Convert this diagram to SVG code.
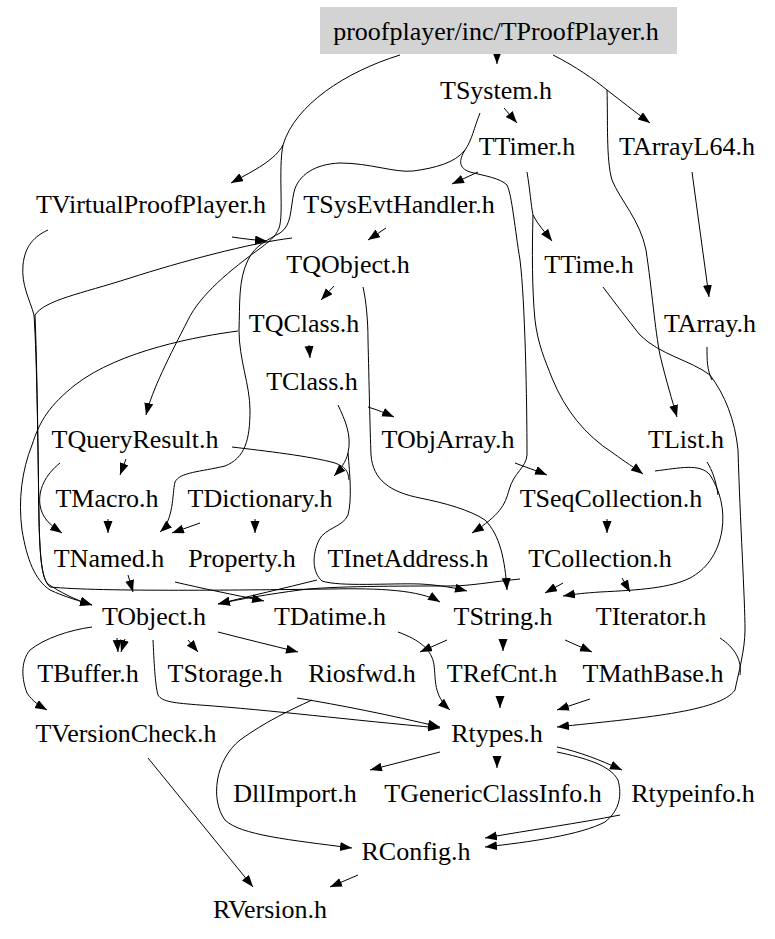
<svg xmlns="http://www.w3.org/2000/svg" width="775" height="939" viewBox="0 0 775 939">
<defs>
<marker id="ah" markerUnits="userSpaceOnUse" markerWidth="13" markerHeight="10" refX="12" refY="4.5" orient="auto"><path d="M0,0 L12,4.5 L0,9 z" fill="#000"/></marker>
<style>
text{font-family:"Liberation Serif","Times New Roman",serif;font-size:26px;text-anchor:middle;fill:#000}
#edges path{fill:none;stroke:#000;stroke-width:1}
#edges path.a{marker-end:url(#ah)}
</style>
</defs>
<rect width="775" height="939" fill="#fff"/>
<g id="edges">
<path class="a" d="M497,52 L497,64"/>
<path class="a" d="M400,55 C345,72 295,105 283,145 C275,160 255,170 231,183"/>
<path class="a" d="M283,145 C278,170 284,215 279,228 C275,238 268,242 262,247 C230,270 200,295 188,320 C170,355 152,390 146,415"/>
<path class="a" d="M553,55 C575,66 595,80 607,90 C620,100 635,112 650,123"/>
<path class="a" d="M607,90 C608,120 606,160 612,180 C620,200 640,220 646,250 C652,290 655,330 660,355 C666,380 672,400 677,417"/>
<path class="a" d="M504,108 L517,123"/>
<path class="a" d="M480,113 C474,128 472,140 465,150 C455,163 435,168 413,171 C395,173 370,163 340,163 C315,164 298,175 294,192 C290,210 292,225 280,233 C268,240 255,245 248,260 C238,280 240,305 239,330 C239,360 250,385 250,410 C250,440 245,458 225,466 C200,472 180,472 175,482 C172,495 174,520 160,532"/>
<path class="a" d="M465,150 C459,160 458,168 470,172 C485,176 500,178 507,185 C512,195 515,230 520,260 C525,300 527,400 527,455 C526,468 514,472 509,490 C505,505 500,515 472,533"/>
<path class="a" d="M478,172 L452,184"/>
<path class="a" d="M527,172 C530,190 531,205 533,215 C538,225 545,232 552,241"/>
<path class="a" d="M533,215 C532,250 532,290 535,320 C538,345 545,360 552,378 C565,410 585,435 613,453 C625,462 635,468 643,474"/>
<path class="a" d="M655,471 C680,468 700,463 710,475 C720,490 725,510 722,530 C718,555 705,570 690,578 C670,588 640,590 600,592 C585,593 575,594 563,596"/>
<path d="M707,462 C712,470 716,480 718,495"/>
<path class="a" d="M334,286 L321,300"/>
<path class="a" d="M363,287 C366,300 368,320 368,340 C369,380 370,430 371,455 C373,480 390,492 420,498 C445,503 470,510 485,520 C500,535 505,560 507,590"/>
<path class="a" d="M309,345 L310,358"/>
<path class="a" d="M238,331 C200,336 120,350 75,385 C50,405 40,420 32,445 C22,470 18,500 22,530 C27,560 35,580 50,590 C65,597 80,601 92,605"/>
<path class="a" d="M232,237 C245,239 255,240 267,241"/>
<path class="a" d="M48,230 C35,236 25,245 23,265 C21,285 30,300 34,315 C37,360 38,450 39,520 C40,560 42,578 48,584 C60,592 75,600 92,605"/>
<path class="a" d="M386,228 L368,240"/>
<path class="a" d="M292,238 C250,243 180,262 130,278 C80,294 45,300 35,315 C37,360 38,450 39,520 C40,560 42,580 50,587 C100,592 250,590 330,589 C380,588 420,590 440,602"/>
<path class="a" d="M368,407 C378,410 385,413 394,417"/>
<path class="a" d="M338,405 C345,420 352,435 348,453 C346,462 340,470 334,476"/>
<path class="a" d="M348,453 C350,475 352,500 348,515 C343,527 325,528 319,540 C312,555 312,572 322,581 C340,587 390,583 420,584 C440,585 455,588 467,591"/>
<path d="M232,447 C265,451 310,456 335,463 C345,467 348,470 349,480"/>
<path class="a" d="M126,459 L120,475"/>
<path class="a" d="M60,463 C45,475 38,490 40,505 C42,518 50,525 62,533"/>
<path class="a" d="M108,519 L108,533"/>
<path class="a" d="M200,523 L172,533"/>
<path class="a" d="M255,519 L255,533"/>
<path class="a" d="M515,463 C525,467 535,470 547,475"/>
<path class="a" d="M607,519 L607,533"/>
<path class="a" d="M622,578 L630,592"/>
<path class="a" d="M563,583 L545,593"/>
<path class="a" d="M520,579 C490,582 470,586 450,586 C400,586 330,586 300,590 C270,594 240,599 218,604"/>
<path class="a" d="M128,575 L133,592"/>
<path class="a" d="M175,582 C200,588 235,595 264,601"/>
<path class="a" d="M317,580 C285,588 250,596 218,604"/>
<path class="a" d="M117,638 L118,652"/>
<path class="a" d="M125,639 L121,652"/>
<path class="a" d="M188,640 L198,652"/>
<path class="a" d="M218,632 C245,639 270,645 298,652"/>
<path class="a" d="M92,627 C70,630 45,638 30,650 C20,662 22,680 27,693 C33,702 40,706 47,710"/>
<path class="a" d="M153,640 C154,660 155,685 158,695 C162,702 175,703 200,705 C270,710 350,720 440,728"/>
<path class="a" d="M297,698 C340,705 390,715 440,727"/>
<path class="a" d="M312,700 C290,710 265,722 240,740 C215,760 210,800 225,820 C240,835 290,840 352,848"/>
<path class="a" d="M503,639 L503,651"/>
<path class="a" d="M565,640 L592,652"/>
<path class="a" d="M447,640 L420,652"/>
<path class="a" d="M398,632 C420,640 432,650 434,665 C436,680 433,695 450,710"/>
<path class="a" d="M500,696 L500,708"/>
<path class="a" d="M590,699 L557,710"/>
<path class="a" d="M603,287 C615,303 628,320 640,335 C660,355 690,360 710,375 C725,395 735,420 738,450 C740,520 745,600 745,630 C745,650 738,675 735,690 C720,712 640,718 557,727"/>
<path d="M707,347 C707,360 707,370 712,380"/>
<path d="M720,638 C735,648 742,660 740,675"/>
<path class="a" d="M692,172 L709,297"/>
<path class="a" d="M148,758 L253,887"/>
<path class="a" d="M358,875 L330,887"/>
<path class="a" d="M440,752 L370,770"/>
<path class="a" d="M497,756 L497,768"/>
<path class="a" d="M557,747 C580,752 600,760 622,770"/>
<path class="a" d="M557,752 C585,758 610,765 618,780 C622,795 620,810 605,822 C580,835 530,842 485,847"/>
<path class="a" d="M620,815 C580,823 530,830 485,838"/>
</g>
<g id="n_root"><rect x="320" y="7" width="357" height="47" fill="#d3d3d3"/><text x="496" y="40">proofplayer/inc/TProofPlayer.h</text></g>
<g id="n_TSystem"><text x="496" y="99">TSystem.h</text></g>
<g id="n_TTimer"><text x="527" y="155">TTimer.h</text></g>
<g id="n_TArrayL64"><text x="687" y="155">TArrayL64.h</text></g>
<g id="n_TVirtualProofPlayer"><text x="151" y="213">TVirtualProofPlayer.h</text></g>
<g id="n_TSysEvtHandler"><text x="399" y="213">TSysEvtHandler.h</text></g>
<g id="n_TQObject"><text x="348" y="273">TQObject.h</text></g>
<g id="n_TTime"><text x="589" y="273">TTime.h</text></g>
<g id="n_TQClass"><text x="304" y="332">TQClass.h</text></g>
<g id="n_TArray"><text x="710" y="332">TArray.h</text></g>
<g id="n_TClass"><text x="312" y="390">TClass.h</text></g>
<g id="n_TQueryResult"><text x="135" y="448">TQueryResult.h</text></g>
<g id="n_TObjArray"><text x="448" y="448">TObjArray.h</text></g>
<g id="n_TList"><text x="686" y="448">TList.h</text></g>
<g id="n_TMacro"><text x="107" y="507">TMacro.h</text></g>
<g id="n_TDictionary"><text x="260" y="507">TDictionary.h</text></g>
<g id="n_TSeqCollection"><text x="611" y="507">TSeqCollection.h</text></g>
<g id="n_TNamed"><text x="109" y="567">TNamed.h</text></g>
<g id="n_Property"><text x="242" y="567">Property.h</text></g>
<g id="n_TInetAddress"><text x="408" y="567">TInetAddress.h</text></g>
<g id="n_TCollection"><text x="600" y="567">TCollection.h</text></g>
<g id="n_TObject"><text x="154" y="625">TObject.h</text></g>
<g id="n_TDatime"><text x="330" y="625">TDatime.h</text></g>
<g id="n_TString"><text x="503" y="625">TString.h</text></g>
<g id="n_TIterator"><text x="651" y="625">TIterator.h</text></g>
<g id="n_TBuffer"><text x="88" y="682">TBuffer.h</text></g>
<g id="n_TStorage"><text x="225" y="682">TStorage.h</text></g>
<g id="n_Riosfwd"><text x="362" y="682">Riosfwd.h</text></g>
<g id="n_TRefCnt"><text x="502" y="682">TRefCnt.h</text></g>
<g id="n_TMathBase"><text x="653" y="682">TMathBase.h</text></g>
<g id="n_TVersionCheck"><text x="126" y="742">TVersionCheck.h</text></g>
<g id="n_Rtypes"><text x="497" y="742">Rtypes.h</text></g>
<g id="n_DllImport"><text x="295" y="802">DllImport.h</text></g>
<g id="n_TGenericClassInfo"><text x="493" y="802">TGenericClassInfo.h</text></g>
<g id="n_Rtypeinfo"><text x="693" y="802">Rtypeinfo.h</text></g>
<g id="n_RConfig"><text x="416" y="860">RConfig.h</text></g>
<g id="n_RVersion"><text x="270" y="918">RVersion.h</text></g>
</svg>
